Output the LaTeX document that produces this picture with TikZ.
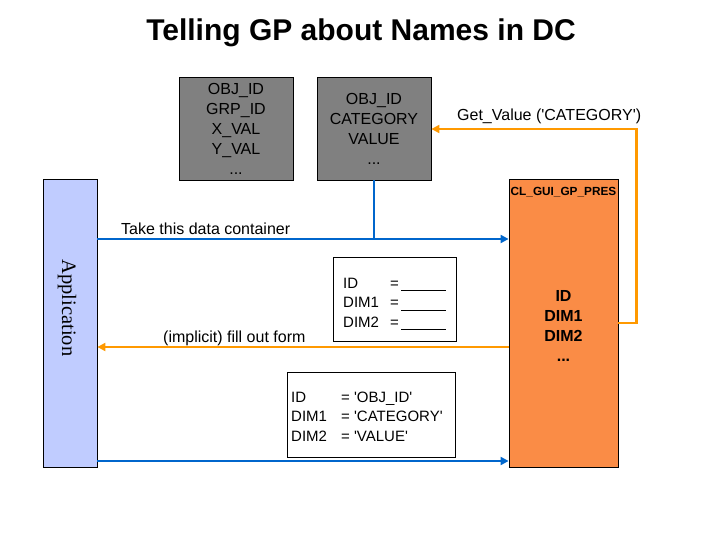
\documentclass[tikz,border=0pt]{standalone}
\usepackage{fontspec}
\setmainfont{Liberation Sans}
\newfontfamily\serifapp{Liberation Serif}
\usetikzlibrary{arrows.meta}
\definecolor{boxgray}{RGB}{128,128,128}
\definecolor{presfill}{RGB}{250,140,70}
\definecolor{appfill}{RGB}{192,204,255}
\definecolor{lineblue}{RGB}{0,102,204}
\definecolor{lineorange}{RGB}{255,153,0}
\newcommand{\sq}{\textquotesingle}
\tikzset{
  graybox/.style={draw=black, fill=boxgray, line width=0.8pt, minimum width=114pt, minimum height=103pt, inner sep=0pt, font=\fontsize{16}{20}\selectfont, align=center},
  formbox/.style={draw=black, line width=0.8pt, inner sep=0pt},
  formtxt/.style={anchor=base west, inner sep=0pt, font=\fontsize{15}{18}\selectfont},
  lbl/.style={anchor=base west, inner sep=0pt, font=\fontsize{16}{18}\selectfont},
  conn/.style={line width=2.6pt, -{Triangle[length=8pt,width=8pt]}},
  connb/.style={conn, draw=lineblue},
  conno/.style={conn, draw=lineorange},
}
\begin{document}
\begin{tikzpicture}[x=1pt,y=-1pt]
\useasboundingbox (0,0) rectangle (720,540);
% title
\node[font=\fontsize{30}{34}\selectfont\bfseries, inner sep=0pt] (title) at (361,33) {Telling GP about Names in DC};
% gray boxes
\node[graybox] (src) at (236,128.5) {OBJ\_ID\\GRP\_ID\\X\_VAL\\Y\_VAL\\...};
\node[graybox] (gp) at (374,128.5) {OBJ\_ID\\CATEGORY\\VALUE\\...};
% application
\node[draw=black, fill=appfill, line width=0.8pt, minimum width=54pt, minimum height=288pt, inner sep=0pt] (app) at (70,323) {};
\node[rotate=-90, font=\serifapp\fontsize{20.5}{24}\selectfont, inner sep=0pt] (apptxt) at (67,308) {Application};
% pres box
\node[draw=black, fill=presfill, line width=0.8pt, minimum width=109pt, minimum height=288pt, inner sep=0pt] (pres) at (563.5,323) {};
\node[font=\fontsize{11.8}{13}\selectfont\bfseries, inner sep=0pt] (prestitle) at (563.5,192) {CL\_GUI\_GP\_PRES};
\node[font=\fontsize{16}{20}\selectfont\bfseries, align=center, inner sep=0pt] (prestxt) at (563.5,326) {ID\\DIM1\\DIM2\\...};
% form box 1
\node[formbox, minimum width=123pt, minimum height=84pt] (form1) at (394.5,299) {};
\node[formtxt] (f1a) at (343,288) {ID};
\node[formtxt] (f1b) at (343,307.5) {DIM1};
\node[formtxt] (f1c) at (343,327) {DIM2};
\node[formtxt] (f1ae) at (390,288) {=};
\node[formtxt] (f1be) at (390,307.5) {=};
\node[formtxt] (f1ce) at (390,327) {=};
\draw[line width=0.8pt] (401,290) -- (446,290) (401,310) -- (446,310) (401,329) -- (446,329);
% form box 2
\node[formbox, minimum width=168pt, minimum height=85pt] (form2) at (371,414.5) {};
\node[formtxt] (f2a) at (291,402) {ID};
\node[formtxt] (f2b) at (291,421.5) {DIM1};
\node[formtxt] (f2c) at (291,441) {DIM2};
\node[formtxt] (f2ae) at (341,402) {= \sq OBJ\_ID\sq};
\node[formtxt] (f2be) at (341,421.5) {= \sq CATEGORY\sq};
\node[formtxt] (f2ce) at (341,441) {= \sq VALUE\sq};
% connector rows
\coordinate (ytake) at (0,239);
\coordinate (yfill) at (0,347);
\coordinate (yret) at (0,461);
\coordinate (yloop) at (0,323);
\coordinate (ytop) at (0,129);
\draw[connb] (ytake -| app.east) -- (ytake -| pres.west);
\draw[lineblue, line width=2.6pt] (gp.south) -- (gp.south |- ytake);
\draw[conno] (yfill -| pres.west) -- (yfill -| app.east);
\draw[connb] (yret -| app.east) -- (yret -| pres.west);
\draw[conno] (yloop -| pres.east) -- ++(18,0) |- (ytop -| gp.east);
% labels
\node[lbl] (l1) at (121,234) {Take this data container};
\node[lbl] (l2) at (163,342) {(implicit) fill out form};
\node[lbl] (l3) at (457,121) {Get\_Value (\sq CATEGORY\sq)};
\end{tikzpicture}
\end{document}
